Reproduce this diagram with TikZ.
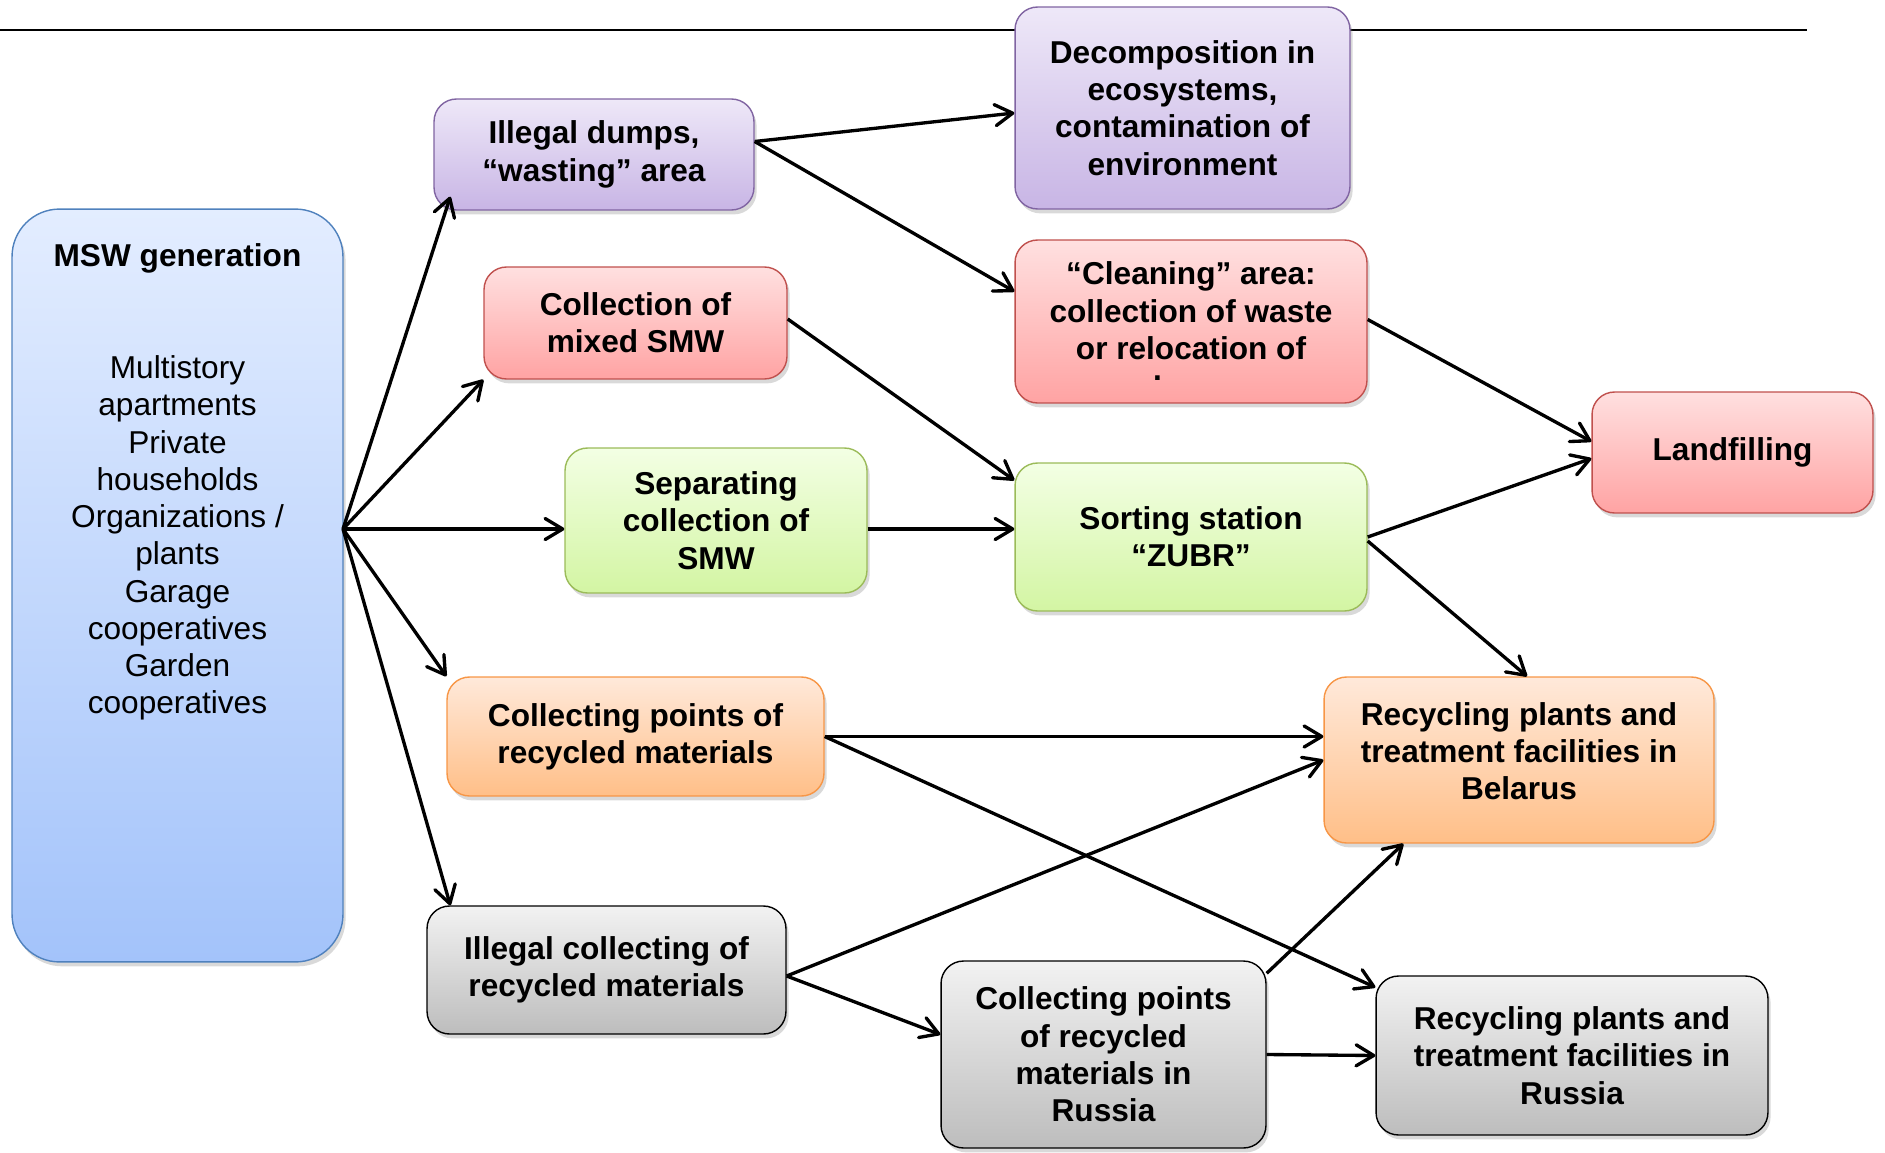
\documentclass[tikz,border=0pt]{standalone}
\usepackage{fontspec}
\setmainfont{Liberation Sans}
\usetikzlibrary{arrows.meta,shadows,calc}

\definecolor{purpt}{HTML}{EEE8F8}
\definecolor{purpb}{HTML}{C8B5E5}
\definecolor{purpd}{HTML}{8064A2}
\definecolor{redt}{HTML}{FFE0E0}
\definecolor{redb}{HTML}{FFA3A3}
\definecolor{redd}{HTML}{C0504D}
\definecolor{greent}{HTML}{F3FFE4}
\definecolor{greenb}{HTML}{D3F5A3}
\definecolor{greend}{HTML}{9BBB59}
\definecolor{oranget}{HTML}{FFE9DA}
\definecolor{orangeb}{HTML}{FFBF88}
\definecolor{oranged}{HTML}{F79646}
\definecolor{grayt}{HTML}{F2F2F2}
\definecolor{grayb}{HTML}{BDBDBD}
\definecolor{blued}{HTML}{4F81BD}
\definecolor{bluet}{HTML}{E3EDFF}
\definecolor{blueb}{HTML}{A3C3FA}

\begin{document}
\begin{tikzpicture}[x=0.02cm,y=-0.02cm,font=\fontsize{18}{21.2}\selectfont,
  box/.style={draw,line width=0.8pt,rounded corners=0.45cm,align=center,inner sep=0pt,
    font=\fontsize{18}{21.2}\selectfont\bfseries,
    drop shadow={shadow xshift=1.5pt,shadow yshift=-2.5pt,opacity=0.3}},
  purplebox/.style={box,draw=purpd,top color=purpt,bottom color=purpb},
  redbox/.style={box,draw=redd,top color=redt,bottom color=redb},
  greenbox/.style={box,draw=greend,top color=greent,bottom color=greenb},
  orangebox/.style={box,draw=oranged,top color=oranget,bottom color=orangeb},
  graybox/.style={box,draw=black,top color=grayt,bottom color=grayb},
  arr/.style={-{Straight Barb[length=10pt,width=12pt,round]},line width=1.9pt}]
\useasboundingbox (0,0) rectangle (1885,1152);
\draw[line width=1.2pt] (0,30) -- (1807,30);

\node[box,draw=blued,top color=bluet,bottom color=blueb,rounded corners=0.95cm,
  minimum width=6.62cm,minimum height=15.06cm] (msw) at (177.5,585.5) {};
\node[font=\fontsize{18}{21.2}\selectfont\bfseries] (mswtitle) at (177.5,258) {MSW generation};
\node[align=center] (mswbody) at (177.5,538) {Multistory\\apartments\\Private\\households\\Organizations /\\plants\\Garage\\cooperatives\\Garden\\cooperatives};
\coordinate (fan) at (343,529);

\node[purplebox,minimum width=6.4cm,minimum height=2.22cm] (dumps) at (594,154.5) {Illegal dumps,\\``wasting'' area};
\node[purplebox,minimum width=6.7cm,minimum height=4.04cm] (decomp) at (1182.5,108) {Decomposition in\\ecosystems,\\contamination of\\environment};
\node[redbox,minimum width=6.06cm,minimum height=2.24cm] (mixed) at (635.5,323) {Collection of\\mixed SMW};
\node[redbox,minimum width=7.04cm,minimum height=3.26cm] (cleaning) at (1191,321.5) {``Cleaning'' area:\\collection of waste\\or relocation of\\[-9pt]\makebox[2.4em][l]{.}};
\node[redbox,minimum width=5.62cm,minimum height=2.42cm] (landfill) at (1732.5,452.5) {Landfilling};
\node[greenbox,minimum width=6.04cm,minimum height=2.9cm] (sep) at (716,520.5) {Separating\\collection of\\SMW};
\node[greenbox,minimum width=7.04cm,minimum height=2.96cm] (sorting) at (1191,537) {Sorting station\\``ZUBR''};
\node[orangebox,minimum width=7.54cm,minimum height=2.38cm] (cpts) at (635.5,736.5) {Collecting points of\\recycled materials};
\node[orangebox,minimum width=7.8cm,minimum height=3.32cm] (belarus) at (1519,760) {Recycling plants and\\treatment facilities in\\Belarus\\[-11pt]~};
\node[graybox,minimum width=7.18cm,minimum height=2.56cm] (ilcol) at (606.5,970) {Illegal collecting of\\recycled materials};
\node[graybox,minimum width=6.5cm,minimum height=3.74cm] (crus) at (1103.5,1054.5) {Collecting points\\of recycled\\materials in\\Russia};
\node[graybox,minimum width=7.84cm,minimum height=3.18cm] (rrus) at (1572,1055.5) {Recycling plants and\\treatment facilities in\\Russia};

\draw[arr] (fan) -- ($(dumps.south west)+(17,-14)$);
\draw[arr] (fan) -- (mixed.south west);
\draw[arr] (fan) -- (fan -| sep.west);
\draw[arr] (fan) -- (cpts.north west);
\draw[arr] (fan) -- ($(ilcol.north west)+(24,0)$);
\draw[arr] ($(dumps.east)+(0,-13)$) -- ($(decomp.west)+(0,5)$);
\draw[arr] ($(dumps.east)+(0,-13)$) -- ($(cleaning.west)+(0,-30)$);
\draw[arr] ($(mixed.east)+(0,-4)$) -- ($(sorting.north west)+(0,18)$);
\draw[arr] (fan -| sep.east) -- (fan -| sorting.west);
\draw[arr] ($(cleaning.east)+(0,-2)$) -- ($(landfill.west)+(0,-11)$);
\draw[arr] (sorting.east) -- ($(landfill.west)+(0,6)$);
\draw[arr] ($(sorting.east)+(0,4)$) -- ($(belarus.north)+(8,0)$);
\draw[arr] (cpts.east) -- (cpts.east -| belarus.west);
\draw[arr] (cpts.east) -- ($(rrus.north west)+(0,12)$);
\draw[arr] ($(ilcol.east)+(0,6)$) -- (belarus.west);
\draw[arr] ($(ilcol.east)+(0,6)$) -- ($(crus.west)+(0,-20)$);
\draw[arr] ($(crus.north east)+(0,13)$) -- ($(belarus.south west)+(80,0)$);
\draw[arr] (crus.east) -- (rrus.west);
\end{tikzpicture}
\end{document}
